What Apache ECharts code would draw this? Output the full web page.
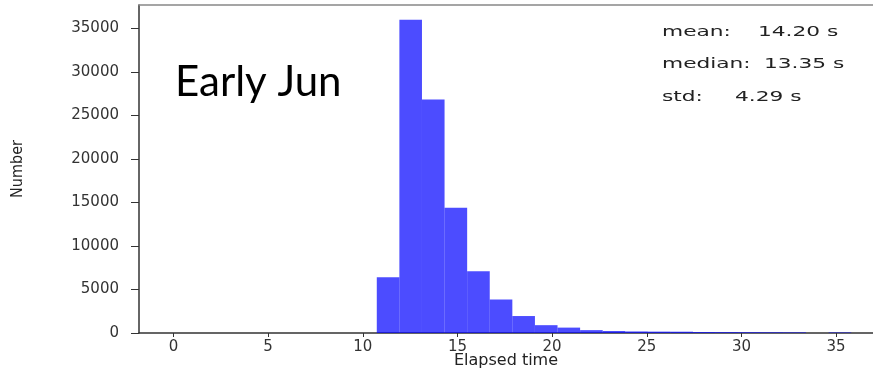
<!DOCTYPE html>
<html>
<head>
<meta charset="utf-8">
<script src="https://cdn.jsdelivr.net/npm/echarts@6/dist/echarts.min.js"></script>
<style>
	html, body { margin: 0; padding: 0; background: #fff; }
	#hist { width: 873px; height: 370px; }
</style>
</head>
<body>
<div id="hist"></div>
<script>
	// histogram: 30 bins from 0 to 35.8 s
	var binStart = 0;
	var binWidth = 35.8 / 30;
	var counts = [0, 0, 0, 0, 0, 0, 0, 0, 0,
		6400, 36000, 26850, 14400, 7100, 3850, 1950, 900, 620, 330,
		230, 180, 160, 150, 110, 100, 90, 80, 70, 0, 60];
	var xTicks = [0, 5, 10, 15, 20, 25, 30, 35];
	var yTicks = [0, 5000, 10000, 15000, 20000, 25000, 30000, 35000];
	var statNames = ['mean:', 'median:', 'std:'];
	var statValues = ['14.20 s', '13.35 s', '4.29 s'];

	var bins = counts.map(function(c, i) {
		return [binStart + i * binWidth, binStart + (i + 1) * binWidth, c];
	});

	var axisCol = '#333';
	var labelFont = { fontFamily: 'DejaVu Sans', fontSize: 15, color: '#333' };

	var myChart = echarts.init(document.getElementById('hist'));
	var option = {
		animation: false,
		grid: { left: 139, right: 0, top: 5, bottom: 37, outerBoundsMode: 'none', containLabel: false },
		xAxis: [{
			type: 'value',
			min: -1.82,
			max: 36.95,
			name: 'Elapsed time',
			nameLocation: 'middle',
			nameGap: 20,
			nameMoveOverlap: false,
			nameTextStyle: { fontFamily: 'DejaVu Sans', fontSize: 16, color: '#222' },
			axisLine: { onZero: false, lineStyle: { color: axisCol, width: 1.5 } },
			axisTick: { customValues: xTicks, length: 4, lineStyle: { color: axisCol } },
			axisLabel: Object.assign({ customValues: xTicks, margin: 7 }, labelFont),
			splitLine: { show: false }
		}, {
			type: 'value',
			position: 'top',
			min: -1.82,
			max: 36.95,
			axisLine: { show: true, onZero: false, lineStyle: { color: '#888', width: 1.5 } },
			axisTick: { show: false },
			axisLabel: { show: false },
			splitLine: { show: false }
		}],
		yAxis: {
			type: 'value',
			min: 0,
			max: 37700,
			name: 'Number',
			nameLocation: 'middle',
			nameGap: 113,
			nameMoveOverlap: false,
			nameTextStyle: { fontFamily: 'DejaVu Sans Condensed', fontSize: 16, color: '#222' },
			axisLine: { show: true, onZero: false, lineStyle: { color: axisCol, width: 1.5 } },
			axisTick: { show: true, customValues: yTicks, length: 8, lineStyle: { color: axisCol } },
			axisLabel: Object.assign({
				customValues: yTicks,
				margin: 20,
				formatter: function(v) { return String(v); }
			}, labelFont),
			splitLine: { show: false }
		},
		series: [{
			type: 'custom',
			data: bins,
			encode: { x: [0, 1], y: 2 },
			renderItem: function(params, api) {
				var p0 = api.coord([api.value(0), 0]);
				var p1 = api.coord([api.value(1), api.value(2)]);
				return {
					type: 'rect',
					shape: { x: p0[0], y: p1[1], width: p1[0] - p0[0], height: p0[1] - p1[1] },
					style: { fill: 'rgba(0,0,255,0.7)', stroke: null }
				};
			}
		}],
		graphic: [{
			type: 'text',
			left: 175,
			top: 61,
			style: { text: 'Early Jun', fontFamily: 'Lato', fontSize: 42, fill: '#000' }
		}].concat(statNames.map(function(s, i) {
			return {
				type: 'text', x: 662, y: 25 + i * 32.5, scaleX: 1.55,
				style: { text: s, fontFamily: 'DejaVu Sans', fontSize: 14, fill: '#222' }
			};
		}), statValues.map(function(s, i) {
			return {
				type: 'text', x: [758, 764, 735][i], y: 25 + i * 32.5, scaleX: 1.55,
				style: { text: s, fontFamily: 'DejaVu Sans', fontSize: 14, fill: '#222' }
			};
		}))
	};
	myChart.setOption(option);
</script>
</body>
</html>
